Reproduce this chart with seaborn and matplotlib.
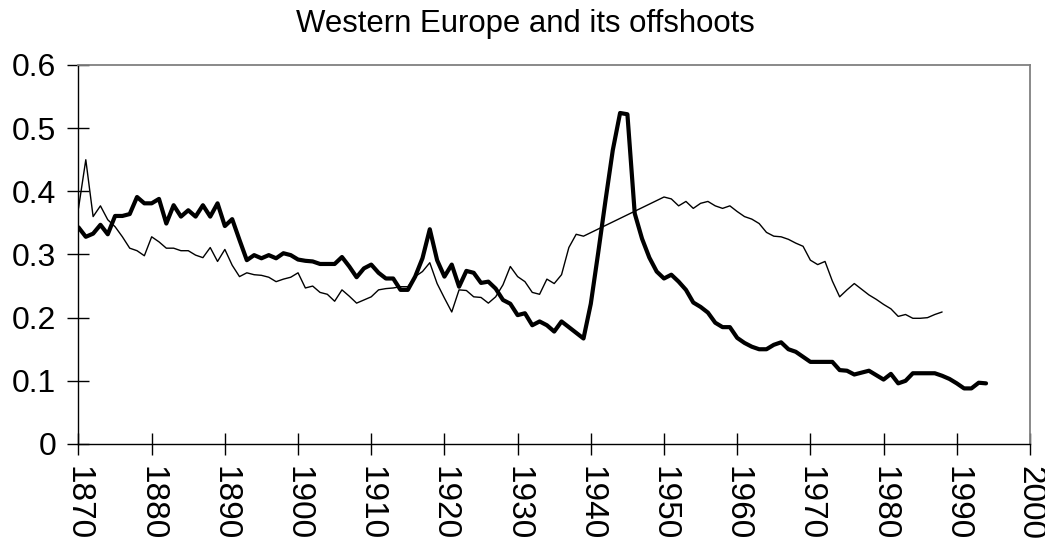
import matplotlib
matplotlib.use("Agg")
import matplotlib.pyplot as plt
import seaborn as sns
import pandas as pd

# thick series, every year 1870-1994
years_a = list(range(1870, 1995))
share_a = [
    0.343, 0.328, 0.333, 0.347, 0.332, 0.361, 0.361, 0.364, 0.391, 0.381,  # 1870s
    0.381, 0.388, 0.349, 0.378, 0.360, 0.370, 0.360, 0.378, 0.360, 0.381,  # 1880s
    0.345, 0.356, 0.323, 0.291, 0.299, 0.294, 0.299, 0.294, 0.302, 0.299,  # 1890s
    0.292, 0.290, 0.289, 0.285, 0.285, 0.285, 0.296, 0.281, 0.264, 0.278,  # 1900s
    0.284, 0.271, 0.262, 0.262, 0.244, 0.244, 0.265, 0.294, 0.340, 0.291,  # 1910s
    0.265, 0.284, 0.249, 0.274, 0.271, 0.255, 0.257, 0.246, 0.228, 0.222,  # 1920s
    0.204, 0.207, 0.188, 0.194, 0.188, 0.178, 0.194, 0.185, 0.176, 0.167,  # 1930s
    0.222, 0.302, 0.385, 0.465, 0.524, 0.522, 0.365, 0.325, 0.295, 0.273,  # 1940s
    0.262, 0.268, 0.257, 0.244, 0.224, 0.217, 0.208, 0.192, 0.185, 0.185,  # 1950s
    0.168, 0.160, 0.154, 0.150, 0.150, 0.157, 0.161, 0.150, 0.146, 0.138,  # 1960s
    0.130, 0.130, 0.130, 0.130, 0.117, 0.116, 0.110, 0.113, 0.116, 0.109,  # 1970s
    0.102, 0.111, 0.096, 0.100, 0.112, 0.112, 0.112, 0.112, 0.108, 0.103,  # 1980s
    0.096, 0.088, 0.088, 0.097, 0.096,                                     # 1990s
]

# thin series, no values 1940-1949 (line just joins 1939 to 1950)
years_b = list(range(1870, 1940)) + list(range(1950, 1989))
share_b = [
    0.373, 0.450, 0.360, 0.377, 0.355, 0.344, 0.328, 0.310, 0.306, 0.298,  # 1870s
    0.328, 0.320, 0.310, 0.310, 0.306, 0.306, 0.299, 0.295, 0.311, 0.289,  # 1880s
    0.308, 0.283, 0.265, 0.271, 0.268, 0.267, 0.264, 0.257, 0.261, 0.264,  # 1890s
    0.271, 0.247, 0.250, 0.240, 0.237, 0.226, 0.244, 0.234, 0.223, 0.228,  # 1900s
    0.233, 0.244, 0.246, 0.247, 0.249, 0.249, 0.265, 0.273, 0.287, 0.254,  # 1910s
    0.231, 0.209, 0.244, 0.243, 0.233, 0.232, 0.223, 0.233, 0.252, 0.281,  # 1920s
    0.265, 0.257, 0.240, 0.237, 0.261, 0.254, 0.268, 0.311, 0.332, 0.329,  # 1930s
    0.391, 0.388, 0.377, 0.384, 0.373, 0.381, 0.384, 0.377, 0.373, 0.377,  # 1950s
    0.368, 0.360, 0.356, 0.349, 0.335, 0.329, 0.328, 0.324, 0.318, 0.313,  # 1960s
    0.291, 0.284, 0.289, 0.258, 0.233, 0.244, 0.254, 0.245, 0.236, 0.229,  # 1970s
    0.221, 0.214, 0.202, 0.205, 0.199, 0.199, 0.200, 0.205, 0.209,         # 1980s
]

x_ticks = list(range(1870, 2001, 10))
y_ticks = [0, 0.1, 0.2, 0.3, 0.4, 0.5, 0.6]
y_labels = ["0", "0.1", "0.2", "0.3", "0.4", "0.5", "0.6"]
title = "Western Europe and its offshoots"

df_a = pd.DataFrame({"year": years_a, "share": share_a})
df_b = pd.DataFrame({"year": years_b, "share": share_b})

sns.set_style("white")
plt.rcParams["font.family"] = ["Liberation Sans", "DejaVu Sans"]

fig = plt.figure(figsize=(10.45, 5.47), dpi=100)
ax = fig.add_axes([0.0751, 0.1883, 0.9105, 0.6929])

sns.lineplot(data=df_b, x="year", y="share", color="black", linewidth=1.0, ax=ax)
sns.lineplot(data=df_a, x="year", y="share", color="black", linewidth=3.0, ax=ax)

ax.set_xlim(1870, 2000)
ax.set_ylim(0, 0.6)
ax.set_xlabel("")
ax.set_ylabel("")

ax.set_xticks(x_ticks)
ax.set_xticklabels([str(t) for t in x_ticks], rotation=270, fontsize=24)
ax.set_yticks(y_ticks)
ax.set_yticklabels(y_labels, fontsize=23)
ax.tick_params(bottom=True, left=True, direction="inout", length=16, width=1,
               color="black", labelcolor="black", pad=8)

for side in ["left", "bottom"]:
    ax.spines[side].set_color("black")
    ax.spines[side].set_linewidth(1.0)
for side in ["top", "right"]:
    ax.spines[side].set_color("#808080")
    ax.spines[side].set_linewidth(1.3)

fig.text(0.503, 0.9415, title, ha="center", va="baseline", fontsize=22.4, color="black")

fig.savefig("out.png", dpi=100)
